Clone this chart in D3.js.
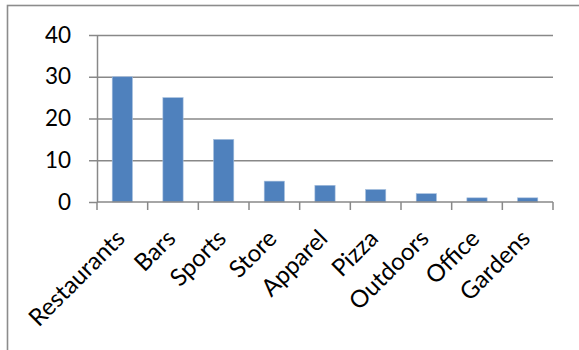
<!DOCTYPE html>
<html>
<head>
<meta charset="utf-8">
<script src="https://cdn.jsdelivr.net/npm/d3@7"></script>
<style>
  html, body { margin: 0; padding: 0; background: #fff; }
  svg { display: block; }
</style>
</head>
<body>
<svg id="chart" width="579" height="350"></svg>
<script>
// Business categories and their counts
const categories = ["Restaurants", "Bars", "Sports", "Store", "Apparel", "Pizza", "Outdoors", "Office", "Gardens"];
const counts = [30, 25, 15, 5, 4, 3, 2, 1, 1];
const yTicks = [0, 10, 20, 30, 40];

const svg = d3.select("#chart");
const font = "Lato, 'Open Sans', sans-serif";

// Chart-area frame (runs off the right and bottom edges)
svg.append("rect")
  .attr("x", 7.5).attr("y", 5.5)
  .attr("width", 600).attr("height", 400)
  .attr("fill", "#fff")
  .attr("stroke", "#8c8c8c")
  .attr("stroke-width", 1.6);

const plot = { left: 97, right: 553, top: 35, bottom: 202 };

const x = d3.scaleBand()
  .domain(categories)
  .range([plot.left, plot.right])
  .paddingInner(0.6)
  .paddingOuter(0.3);

const y = d3.scaleLinear()
  .domain([0, 40])
  .range([plot.bottom, plot.top]);

const grey = "#888888";

// Horizontal gridlines with outward tick marks
const yAxis = svg.append("g")
  .attr("transform", `translate(${plot.left},0)`)
  .call(d3.axisLeft(y).tickValues(yTicks).tickSize(8).tickPadding(18).tickSizeOuter(0));
yAxis.select(".domain").attr("stroke", grey).attr("stroke-width", 1.5);
yAxis.selectAll(".tick line").attr("stroke", grey).attr("stroke-width", 1.5);
yAxis.selectAll(".tick").filter(d => d > 0).append("line")
  .attr("x1", 0).attr("x2", plot.right - plot.left)
  .attr("stroke", grey).attr("stroke-width", 1.5);
yAxis.selectAll(".tick text")
  .attr("font-family", font)
  .attr("font-size", 22.5)
  .attr("fill", "#000");

// Bars
svg.append("g").selectAll("rect")
  .data(categories)
  .join("rect")
  .attr("x", d => x(d))
  .attr("width", x.bandwidth())
  .attr("y", (d, i) => y(counts[i]))
  .attr("height", (d, i) => y(0) - y(counts[i]))
  .attr("fill", "#4f81bd")
  .attr("stroke", "#a7c0de")
  .attr("stroke-width", 0.6);

// Category axis: boundary ticks between bands
const boundaries = d3.range(categories.length + 1).map(i => plot.left + i * (plot.right - plot.left) / categories.length);
const xAxis = svg.append("g");
xAxis.append("line")
  .attr("x1", plot.left).attr("x2", plot.right)
  .attr("y1", plot.bottom).attr("y2", plot.bottom)
  .attr("stroke", grey).attr("stroke-width", 1.5);
xAxis.selectAll("line.tk")
  .data(boundaries)
  .join("line")
  .attr("class", "tk")
  .attr("x1", d => d).attr("x2", d => d)
  .attr("y1", plot.bottom).attr("y2", plot.bottom + 8)
  .attr("stroke", grey).attr("stroke-width", 1.5);

// Rotated category labels
xAxis.selectAll("text")
  .data(categories)
  .join("text")
  .attr("transform", d => `translate(${x(d) + x.bandwidth() / 2 + 4},240) rotate(-45)`)
  .attr("text-anchor", "end")
  .attr("font-family", font)
  .attr("font-size", 24)
  .attr("fill", "#000")
  .text(d => d);
</script>
</body>
</html>
